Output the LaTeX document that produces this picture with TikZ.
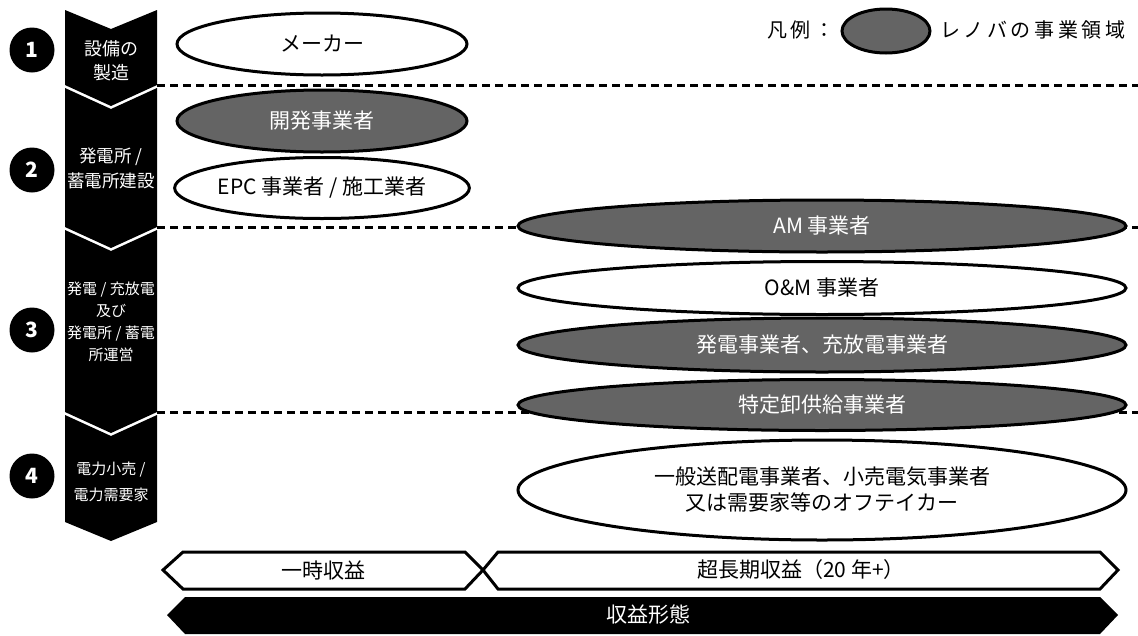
\documentclass[tikz,border=0pt]{standalone}
\usepackage{fontspec}
\setmainfont{Noto Sans CJK JP}
\newfontfamily\legendfont[LetterSpace=18]{Noto Sans CJK JP}
\usetikzlibrary{shapes.geometric}
\definecolor{renova}{RGB}{100,100,100}

\begin{document}
\begin{tikzpicture}[x=1pt, y=-1pt]
        \tikzstyle{num}=[circle, fill=black, text=white, minimum size=45pt, inner sep=0pt, font=\fontsize{21}{21}\selectfont\bfseries]
        \tikzstyle{stage}=[text=white, align=center, inner sep=0pt]
        \tikzstyle{actor}=[draw, ellipse, line width=3pt, fill=white, inner sep=0pt, align=center, font=\fontsize{21}{26}\selectfont]
        \tikzstyle{own}=[actor, fill=renova, text=white]
        \tikzstyle{sep}=[dash pattern=on 8pt off 5pt, line width=3pt]
        \tikzstyle{band}=[line width=3pt, fill=white]

        \useasboundingbox (0,0) rectangle (1138,635);

        \fill (65,10) -- (111,29) -- (157,10) -- (157,85) -- (111,106) -- (65,85) -- cycle;
        \fill (65,88) -- (111,109) -- (157,88) -- (157,227) -- (111,248) -- (65,227) -- cycle;
        \fill (65,230) -- (111,251) -- (157,230) -- (157,412) -- (111,433) -- (65,412) -- cycle;
        \fill (65,415) -- (111,436) -- (157,415) -- (157,522) -- (111,541) -- (65,522) -- cycle;

        \node[stage, font=\fontsize{18}{24}\selectfont](s1) at (111,61){設備の\\製造};
        \node[stage, font=\fontsize{17.5}{25}\selectfont](s2) at (111,168){発電所 /\\蓄電所建設};
        \node[stage, font=\fontsize{15}{22}\selectfont](s3) at (111,322){発電 / 充放電\\及び\\発電所 / 蓄電\\所運営};
        \node[stage, font=\fontsize{15}{26}\selectfont](s4) at (111,482){電力小売 /\\電力需要家};

        \node[num](n1) at (32,50){1};
        \node[num](n2) at (32,170){2};
        \node[num](n3) at (32,330){3};
        \node[num](n4) at (32,476){4};

        \draw[sep] (157,85) -- (1138,85);
        \draw[sep] (157,227) -- (1138,227);
        \draw[sep] (157,412) -- (1138,412);

        \node[actor, minimum width=290pt, minimum height=62pt](maker) at (322,44){メーカー};
        \node[own, minimum width=290pt, minimum height=62pt](dev) at (322,121){開発事業者};
        \node[actor, minimum width=290pt, minimum height=61pt](epc) at (322,188){EPC 事業者 / 施工業者};

        \node[own, minimum width=608pt, minimum height=52pt](am) at (822,226){AM 事業者};
        \node[actor, minimum width=608pt, minimum height=53pt](om) at (822,288){O\&M 事業者};
        \node[own, minimum width=608pt, minimum height=54pt](ipp) at (822,345){発電事業者、充放電事業者};
        \node[own, minimum width=608pt, minimum height=51pt](spec) at (822,405){特定卸供給事業者};
        \node[actor, minimum width=608pt, minimum height=100pt](offtaker) at (822,490){一般送配電事業者、小売電気事業者\\又は需要家等のオフテイカー};

        \node[anchor=west, inner sep=0pt, font=\fontsize{20}{20}\selectfont\legendfont](legend) at (767,30){凡例：};
        \node[own, minimum width=88pt, minimum height=44pt](sample) at (886,31){};
        \node[anchor=west, inner sep=0pt, font=\fontsize{20}{20}\selectfont\legendfont](legendtext) at (940,30){レノバの事業領域};

        \draw[band] (163,570) -- (183,552) -- (465,552) -- (483,570) -- (465,589) -- (183,589) -- cycle;
        \draw[band] (483,570) -- (498,552) -- (1100,552) -- (1118,570) -- (1100,589) -- (498,589) -- cycle;
        \fill (167,615) -- (185,597) -- (1100,597) -- (1118,615) -- (1100,634) -- (185,634) -- cycle;

        \node[font=\fontsize{21}{21}\selectfont](onetime) at (323,570){一時収益};
        \node[font=\fontsize{21}{21}\selectfont](longterm) at (801,570){超長期収益（20 年+）};
        \node[text=white, font=\fontsize{21}{21}\selectfont](revenue) at (648,615){収益形態};

        \end{tikzpicture}
\end{document}
